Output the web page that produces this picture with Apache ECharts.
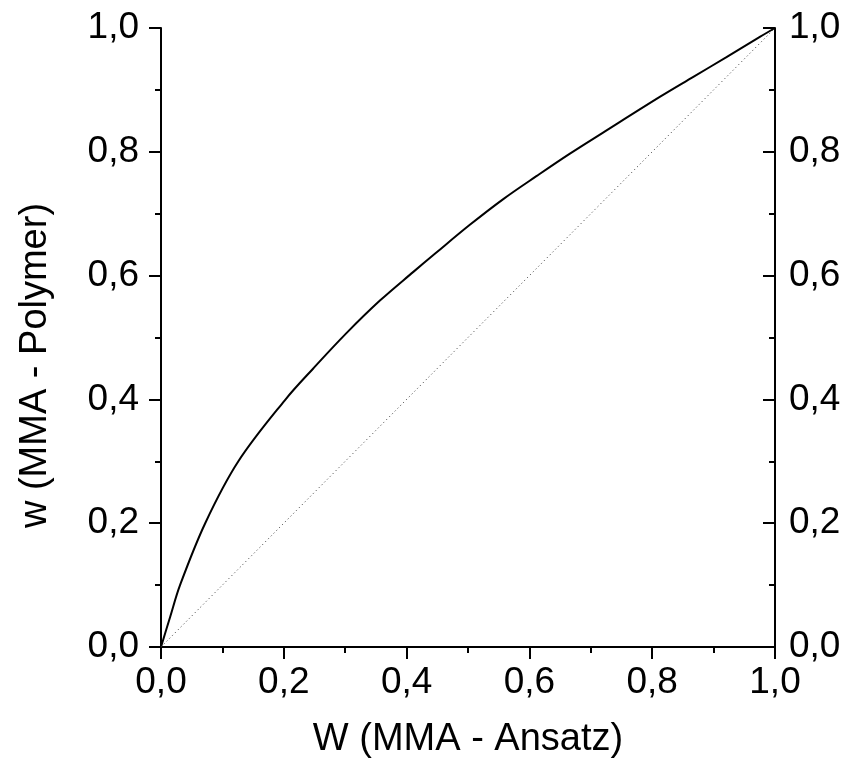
<!DOCTYPE html>
<html>
<head>
<meta charset="utf-8">
<script src="https://cdn.jsdelivr.net/npm/echarts@6/dist/echarts.min.js"></script>
<style>
html,body{margin:0;padding:0;background:#fff;}
#chart{width:846px;height:769px;}
</style>
</head>
<body>
<div id="chart"></div>
<script>
const xValues = [0, 0.015, 0.031, 0.072, 0.126, 0.202, 0.248, 0.302, 0.357, 0.411, 0.447, 0.503, 0.558, 0.612, 0.666, 0.720, 0.813, 0.867, 0.921, 0.976, 1.0];
const yValues = [0, 0.049, 0.100, 0.200, 0.300, 0.399, 0.450, 0.507, 0.560, 0.606, 0.636, 0.682, 0.724, 0.761, 0.797, 0.831, 0.889, 0.921, 0.953, 0.986, 1.0];
const diagX = [0, 1];
const diagY = [0, 1];
const xTitle = 'W (MMA - Ansatz)';
const yTitle = 'w (MMA - Polymer)';

const FONT = 'Liberation Sans, Arial, sans-serif';
const fmt = v => v.toFixed(1).replace('.', ',');

const axisCommon = {
  type: 'value', min: 0, max: 1, interval: 0.2,
  axisLine: {show: true, lineStyle: {color: '#000', width: 2}},
  axisTick: {show: true, length: 12, lineStyle: {color: '#000', width: 2}},
  minorTick: {show: true, splitNumber: 2, length: 6, lineStyle: {color: '#000', width: 2}},
  splitLine: {show: false},
  axisLabel: {color: '#000', fontSize: 37, fontFamily: FONT, formatter: fmt}
};

const chart = echarts.init(document.getElementById('chart'));
chart.setOption({
  animation: false,
  backgroundColor: '#fff',
  grid: {left: 161, right: 71, top: 28, bottom: 122, containLabel: false},
  xAxis: Object.assign({}, axisCommon, {
    position: 'bottom',
    name: xTitle, nameLocation: 'middle', nameGap: 74,
    nameTextStyle: {color: '#000', fontSize: 38, fontFamily: FONT},
    axisLabel: Object.assign({}, axisCommon.axisLabel, {margin: 17})
  }),
  yAxis: [
    Object.assign({}, axisCommon, {
      position: 'left',
      name: yTitle, nameLocation: 'middle', nameGap: 106,
      nameTextStyle: {color: '#000', fontSize: 38, fontFamily: FONT, padding: [0, 56, 0, 0]},
      axisLabel: Object.assign({}, axisCommon.axisLabel, {margin: 22})
    }),
    Object.assign({}, axisCommon, {
      position: 'right',
      axisTick: Object.assign({}, axisCommon.axisTick, {inside: true}),
      minorTick: Object.assign({}, axisCommon.minorTick),
      axisLabel: Object.assign({}, axisCommon.axisLabel, {margin: 14})
    })
  ],
  series: [
    {
      type: 'line', yAxisIndex: 0, smooth: 0.35, symbol: 'none',
      lineStyle: {color: '#000', width: 2},
      data: xValues.map((x, i) => [x, yValues[i]])
    },
    {
      type: 'line', yAxisIndex: 0, symbol: 'none',
      lineStyle: {color: '#333', width: 1, type: [1, 3]},
      data: diagX.map((x, i) => [x, diagY[i]])
    }
  ]
});
</script>
</body>
</html>
